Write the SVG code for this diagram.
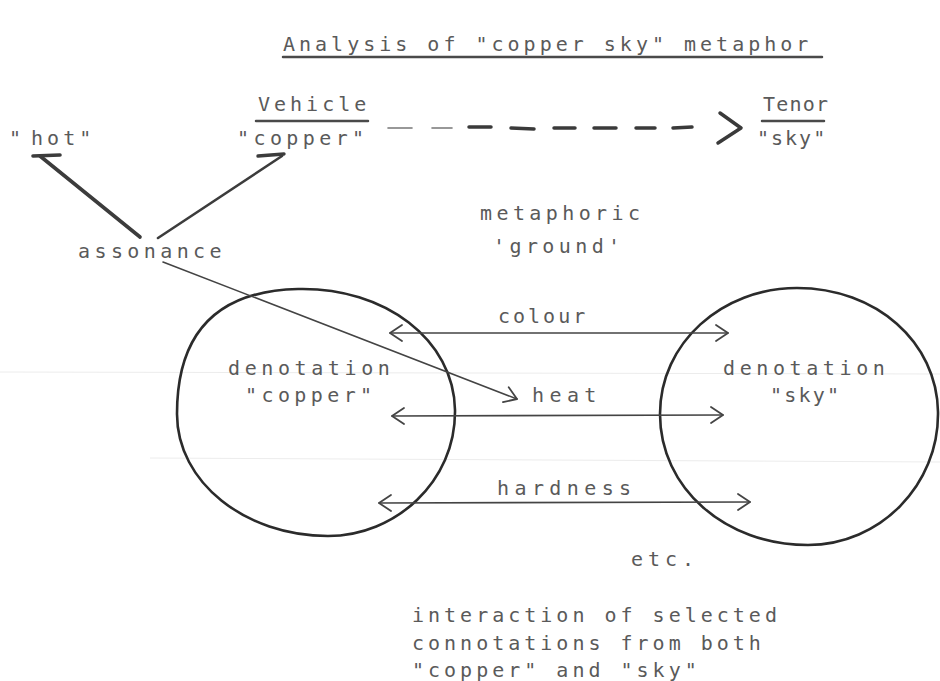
<svg xmlns="http://www.w3.org/2000/svg" width="940" height="681" viewBox="0 0 940 681">
  <style>
    .t { font-family: "DejaVu Sans Mono", "Liberation Mono", monospace; font-size: 20px; letter-spacing: 4px; fill: #5a5a5a; }
    .ul { stroke: #4a4a4a; stroke-width: 2.5; fill: none; stroke-linecap: round; }
    .ring { fill: none; stroke: #2b2b2b; stroke-width: 2.6; stroke-linejoin: round; }
    .ln { fill: none; stroke: #444; stroke-width: 1.6; stroke-linecap: round; }
    .dash { stroke: #3a3a3a; stroke-width: 3.5; stroke-linecap: round; }
    .scan { stroke: #ececec; stroke-width: 1; }
  </style>
  <defs>
    <marker id="ah" viewBox="0 0 16 20" refX="14" refY="10" markerWidth="16" markerHeight="20" markerUnits="userSpaceOnUse" orient="auto-start-reverse">
      <path d="M2,2 L14,10 L2,18" fill="none" stroke="#444" stroke-width="1.8" stroke-linecap="round" stroke-linejoin="round"/>
    </marker>
  </defs>

  <rect width="940" height="681" fill="#fff"/>

  <!-- faint ruling left on the sheet -->
  <line class="scan" x1="0" y1="372" x2="940" y2="374"/>
  <line class="scan" x1="150" y1="458" x2="940" y2="462"/>

  <!-- heading -->
  <g id="title">
    <text class="t" x="283" y="51">Analysis of "copper sky" metaphor</text>
    <line class="ul" x1="283" y1="57" x2="822" y2="57"/>
  </g>

  <g id="vehicle">
    <text class="t" x="258" y="111">Vehicle</text>
    <line class="ul" x1="256" y1="121" x2="368" y2="121"/>
  </g>

  <g id="tenor">
    <text class="t" x="763" y="111" style="letter-spacing:1.2px">Tenor</text>
    <line class="ul" x1="762" y1="121" x2="824" y2="121"/>
  </g>

  <g id="hot">
    <text class="t" x="9" y="145">"<tspan dx="6">hot"</tspan></text>
  </g>

  <g id="copper">
    <text class="t" x="237" y="145" style="letter-spacing:4.4px">"copper"</text>
  </g>

  <g id="sky">
    <text class="t" x="757" y="145" style="letter-spacing:2px">"sky"</text>
  </g>

  <g id="ground">
    <text class="t" x="480" y="220" style="letter-spacing:4.4px">metaphoric</text>
    <text class="t" x="493" y="253" style="letter-spacing:4.4px">'ground'</text>
  </g>

  <g id="assonance">
    <text class="t" x="78" y="258" style="letter-spacing:4.4px">assonance</text>
  </g>

  <g id="denotation-copper">
    <path class="ring" d="M455,410 C456,482 395,536 328,536 C245,536 177,482 177,414 C177,338 212,291 298,289 C385,287 454,340 455,410 Z"/>
    <text class="t" x="228" y="375" style="letter-spacing:4.6px">denotation</text>
    <text class="t" x="245" y="402" style="letter-spacing:4.4px">"copper"</text>
  </g>

  <g id="denotation-sky">
    <path class="ring" d="M938,412 C939,485 880,545 808,545 C725,545 660,488 660,414 C660,343 722,288 797,288 C876,288 937,342 938,412 Z"/>
    <text class="t" x="723" y="375" style="letter-spacing:4.6px">denotation</text>
    <text class="t" x="770" y="402" style="letter-spacing:2.2px">"sky"</text>
  </g>

  <g id="colour"><text class="t" x="498" y="323" style="letter-spacing:3px">colour</text></g>
  <g id="heat"><text class="t" x="532" y="402" style="letter-spacing:5.4px">heat</text></g>
  <g id="hardness"><text class="t" x="497" y="495" style="letter-spacing:5.4px">hardness</text></g>
  <g id="etc"><text class="t" x="631" y="566" style="letter-spacing:5px">etc.</text></g>

  <g id="interaction">
    <text class="t" x="412" y="622">interaction of selected</text>
    <text class="t" x="412" y="650">connotations from both</text>
    <text class="t" x="412" y="677">"copper" and "sky"</text>
  </g>

  <!-- connectors -->
  <g id="connectors">
    <!-- vehicle to tenor, dashed -->
    <line x1="388" y1="128" x2="412" y2="128" stroke="#777" stroke-width="1.6" stroke-linecap="round"/>
    <line x1="432" y1="128" x2="452" y2="128" stroke="#777" stroke-width="1.6" stroke-linecap="round"/>
    <line class="dash" x1="469" y1="127" x2="491" y2="127"/>
    <line class="dash" x1="511" y1="128" x2="534" y2="129"/>
    <line class="dash" x1="554" y1="128" x2="575" y2="128"/>
    <line class="dash" x1="594" y1="128" x2="616" y2="128"/>
    <line class="dash" x1="636" y1="128" x2="655" y2="128"/>
    <line class="dash" x1="673" y1="128" x2="692" y2="127"/>
    <polyline points="720,113 741,128 718,143" fill="none" stroke="#3a3a3a" stroke-width="3.5" stroke-linecap="round" stroke-linejoin="round"/>

    <!-- assonance links -->
    <polyline points="140,237 40,156" fill="none" stroke="#3c3c3c" stroke-width="3.6" stroke-linecap="round"/>
    <line x1="33" y1="156" x2="60" y2="155" stroke="#3c3c3c" stroke-width="3.6" stroke-linecap="round"/>
    <polyline points="158,238 282,156" fill="none" stroke="#3c3c3c" stroke-width="2.6" stroke-linecap="round"/>
    <line x1="258" y1="156" x2="284" y2="154" stroke="#3c3c3c" stroke-width="3.4" stroke-linecap="round"/>

    <line class="ln" x1="163" y1="262" x2="517" y2="399" marker-end="url(#ah)"/>

    <!-- ground relations -->
    <line class="ln" x1="390" y1="333" x2="728" y2="333" marker-start="url(#ah)" marker-end="url(#ah)"/>
    <line class="ln" x1="392" y1="416" x2="723" y2="415" marker-start="url(#ah)" marker-end="url(#ah)"/>
    <line class="ln" x1="379" y1="503" x2="750" y2="502" marker-start="url(#ah)" marker-end="url(#ah)"/>
  </g>
</svg>
